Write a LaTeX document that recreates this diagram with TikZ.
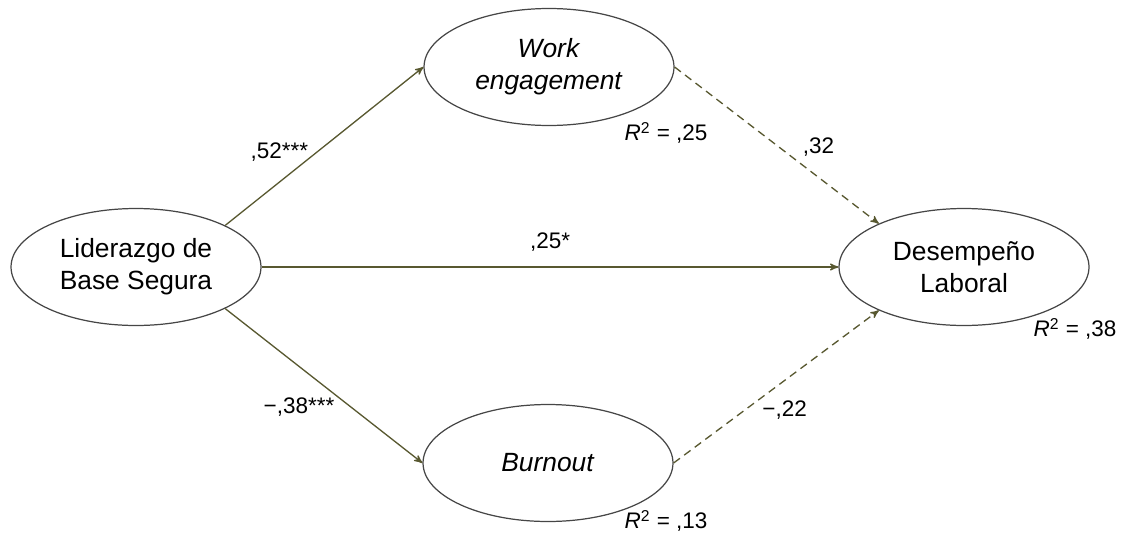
\documentclass[tikz,border=0pt]{standalone}
\usepackage{fontspec}
\setmainfont{Liberation Sans}
\usetikzlibrary{arrows,positioning,shapes.geometric}

\definecolor{pathcol}{RGB}{88,88,48}
\definecolor{rimcol}{RGB}{70,70,70}

\begin{document}
\begin{tikzpicture}[x=0.02cm,y=-0.02cm,>=stealth',
    latent/.style={ellipse,draw=rimcol,line width=0.7pt,minimum width=5cm,minimum height=2.34cm,
      align=center,font=\fontsize{15}{18.2}\selectfont,inner sep=0pt},
    coef/.style={font=\fontsize{12.8}{15}\selectfont,text=black},
    sig/.style={->,draw=pathcol,line width=0.75pt},
    nonsig/.style={sig,dash pattern=on 4.5pt off 3pt}]

            \useasboundingbox (0,0) rectangle (1121,551);

            \node[latent] (lbs) at (136,267) {Liderazgo de\\Base Segura};

            \node[latent] (we) at (549,67) {\textit{Work}\\\textit{engagement}};

            \node[latent] (bo) at (548,463) {\textit{Burnout}};

            \node[latent] (dl) at (964,267) {Desempeño\\Laboral};

            

            \path (lbs.25) edge [sig] node[coef,left=1pt,pos=0.46] {,52***} (we.west)

                  (lbs.-25) edge [sig] node[coef,left=6pt,pos=0.64] {−,38***} (bo.west)

                  (lbs) edge [sig] node[coef,above=5pt] {,25*} (dl)

                  (we.east) edge [nonsig] node[coef,right=10pt,pos=0.51] {,32} (dl.153)

                  (bo.east) edge [nonsig] node[coef,right=6pt,pos=0.35] {−,22} (dl.207);

            

            \node[coef] (r2we) at (666,133) {\textit{R}\textsuperscript{2} = ,25};

            \node[coef] (r2bo) at (666,521) {\textit{R}\textsuperscript{2} = ,13};

            \node[coef] (r2dl) at (1075,329) {\textit{R}\textsuperscript{2} = ,38};

        \end{tikzpicture}
\end{document}
